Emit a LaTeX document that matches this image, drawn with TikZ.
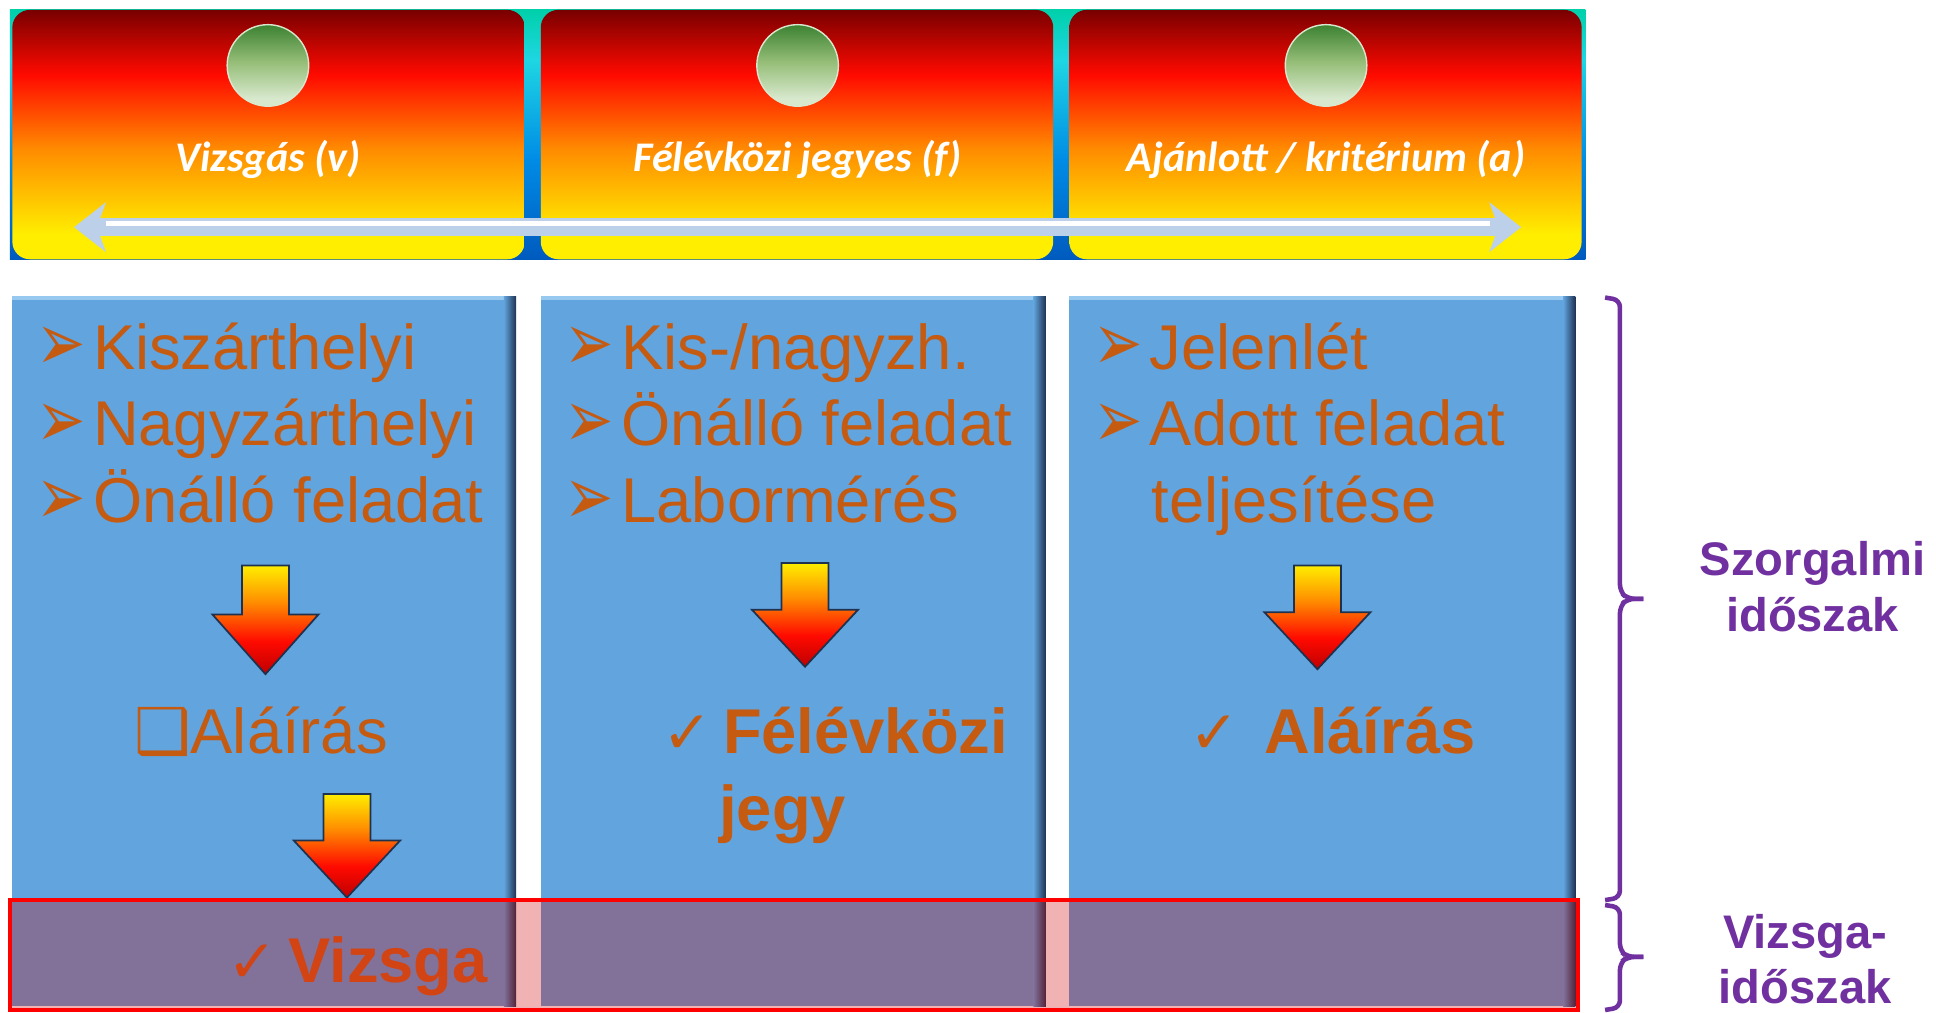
\documentclass[tikz,border=0pt]{standalone}
\usepackage{fontspec}
\usepackage{graphicx}
\setmainfont{Liberation Sans}
\newfontfamily\titlefont{Carlito}
\newfontfamily\symfont{DejaVu Sans}
\usetikzlibrary{arrows.meta}

\definecolor{bluebox}{RGB}{98,164,222}
\definecolor{bluelight}{RGB}{150,200,240}
\definecolor{bluedark}{RGB}{30,50,80}
\definecolor{brownish}{RGB}{197,90,17}
\definecolor{vizsgared}{RGB}{210,68,20}
\definecolor{purp}{RGB}{112,48,160}
\definecolor{arrowblue}{RGB}{188,208,234}
\definecolor{rowred}{RGB}{204,0,0}
\definecolor{bdarkred}{RGB}{120,0,0}
\definecolor{bred}{RGB}{255,10,0}
\definecolor{borange}{RGB}{255,140,0}
\definecolor{byellow}{RGB}{255,238,0}
\definecolor{gteal}{RGB}{0,208,170}
\definecolor{gcyan}{RGB}{30,214,226}
\definecolor{gblue}{RGB}{0,140,230}
\definecolor{gdblue}{RGB}{0,90,190}
\definecolor{sdark}{RGB}{60,130,50}
\definecolor{smid}{RGB}{150,190,120}
\definecolor{spale}{RGB}{215,232,205}
\definecolor{adark}{RGB}{190,0,0}

\pgfdeclareverticalshading{banner}{100bp}{color(0bp)=(byellow); color(30bp)=(byellow); color(47bp)=(borange); color(62bp)=(bred); color(75bp)=(bdarkred); color(100bp)=(bdarkred)}
\pgfdeclareverticalshading{strip}{100bp}{color(0bp)=(gdblue); color(25bp)=(gdblue); color(45bp)=(gblue); color(65bp)=(gcyan); color(75bp)=(gteal); color(100bp)=(gteal)}
\pgfdeclareverticalshading{gball}{100bp}{color(0bp)=(spale); color(30bp)=(spale); color(52bp)=(smid); color(75bp)=(sdark); color(100bp)=(sdark)}
\pgfdeclareverticalshading{arrowgrad}{100bp}{color(0bp)=(adark); color(25bp)=(adark); color(40bp)=(bred); color(58bp)=(borange); color(75bp)=(byellow); color(100bp)=(byellow)}

\tikzset{
  item/.style={text=brownish, font=\fontsize{18}{18}\selectfont, inner sep=0pt, anchor=base west},
  result/.style={item, font=\bfseries\fontsize{18}{18}\selectfont},
  title/.style={text=white, font=\titlefont\bfseries\itshape\fontsize{12}{12}\selectfont, inner sep=0pt, anchor=base},
  period/.style={text=purp, font=\bfseries\fontsize{13.4}{15.8}\selectfont, align=center, inner sep=0pt},
  brace/.style={draw=purp, line width=1.3pt, rounded corners=2pt}
}
\newcommand{\bul}{{\symfont\fontsize{15}{15}\selectfont\raisebox{-0.5pt}{\scalebox{1.12}[1.55]{➢}}}\hspace{2pt}}
\newcommand{\chk}{{\symfont\fontsize{17}{17}\selectfont ✓}}
\newcommand{\blockarrow}[3]{%
  \shade[shading=arrowgrad, draw=bluedark, line width=0.5pt]
    ({#1-19},#2) -- ({#1+19},#2) -- ({#1+19},{#2+0.45*(#3-#2)}) -- ({#1+43},{#2+0.45*(#3-#2)})
    -- (#1,#3) -- ({#1-43},{#2+0.45*(#3-#2)}) -- ({#1-19},{#2+0.45*(#3-#2)}) -- cycle;}

\begin{document}
\begin{tikzpicture}[x=0.012347cm, y=-0.012347cm]
	\useasboundingbox (0,0) rectangle (1568,820);
	% top strip with the three kinds
	\shade[shading=strip] (8,8) rectangle (1284,210);
	\shade[shading=banner, rounded corners=5pt] (10,8) rectangle (425,210);
	\shade[shading=banner, rounded corners=5pt] (438,8) rectangle (853,210);
	\shade[shading=banner, rounded corners=5pt] (866,8) rectangle (1281,210);
	\shade[shading=gball, draw=spale, line width=0.4pt] (217,53) circle [radius=11.6pt];
	\shade[shading=gball, draw=spale, line width=0.4pt] (646,53) circle [radius=11.6pt];
	\shade[shading=gball, draw=spale, line width=0.4pt] (1074,53) circle [radius=11.6pt];
	\node[title] (vizsgas) at (217,139) {Vizsgás (v)};
	\node[title] (felevkozi) at (646,139) {Félévközi jegyes (f)};
	\node[title] (ajanlott) at (1074,139) {Ajánlott / kritérium (a)};
	\coordinate (arrL) at (60,184);
	\coordinate (arrR) at (1232,184);
	\draw[arrowblue, line width=5pt, {Stealth[length=9pt, width=14pt, inset=2.5pt]}-{Stealth[length=9pt, width=14pt, inset=2.5pt]}] (arrL) -- (arrR);
	\draw[white, line width=1.4pt] ([xshift=9pt, yshift=1pt]arrL) -- ([xshift=-9pt, yshift=1pt]arrR);
	% the three columns
	\fill[bluebox] (10,240) rectangle (418,815);
	\fill[bluebox] (438,240) rectangle (847,815);
	\fill[bluebox] (866,240) rectangle (1276,815);
	\fill[bluelight] (10,240) rectangle (418,243);
	\fill[bluelight] (438,240) rectangle (847,243);
	\fill[bluelight] (866,240) rectangle (1276,243);
	\shade[left color=bluebox, right color=bluedark] (408,240) rectangle (418,815);
	\shade[left color=bluebox, right color=bluedark] (837,240) rectangle (847,815);
	\shade[left color=bluebox, right color=bluedark] (1266,240) rectangle (1276,815);
	\node[item] (k1) at (29,299) {\bul Kiszárthelyi};
	\node[item] (k2) at (29,361) {\bul Nagyzárthelyi};
	\node[item] (k3) at (29,423) {\bul Önálló feladat};
	\node[item] (f1) at (457,299) {\bul Kis-/nagyzh.};
	\node[item] (f2) at (457,361) {\bul Önálló feladat};
	\node[item] (f3) at (457,423) {\bul Labormérés};
	\node[item] (a1) at (885,299) {\bul Jelenlét};
	\node[item] (a2) at (885,361) {\bul Adott feladat};
	\node[item] (a3) at (932,423) {teljesítése};
	\blockarrow{215}{458}{546}
	\blockarrow{652}{456}{540}
	\blockarrow{1067}{458}{542}
	\blockarrow{281}{643}{727}
	\node[item] (alairas1) at (108,610) {{\symfont ❑}Aláírás};
	\node[result] (jegy1) at (536,610) {\chk\hspace{3pt}Félévközi};
	\node[result] (jegy2) at (582,673) {jegy};
	\node[result] (alairas3) at (963,610) {\chk\hspace{7pt}Aláírás};
	% exam period row
	\draw[red, line width=1.2pt, fill=rowred, fill opacity=0.3] (8,729) rectangle (1278,818);
	\node[result, text=vizsgared] (vizsga) at (184,796) {\chk\hspace{3pt}Vizsga};
	% braces
	\draw[brace] (1300,241) -- (1312,243) -- (1312,479) -- (1318,485) -- (1331,485);
	\draw[brace] (1331,485) -- (1318,485) -- (1312,491) -- (1312,727) -- (1300,729);
	\draw[brace] (1300,733) -- (1312,735) -- (1312,770) -- (1318,775) -- (1331,775);
	\draw[brace] (1331,775) -- (1318,775) -- (1312,780) -- (1312,816) -- (1300,818);
	\node[period] (szorgalmi) at (1468,475) {Szorgalmi\\időszak};
	\node[period] (vizsgaido) at (1462,777) {Vizsga-\\időszak};
\end{tikzpicture}
\end{document}
